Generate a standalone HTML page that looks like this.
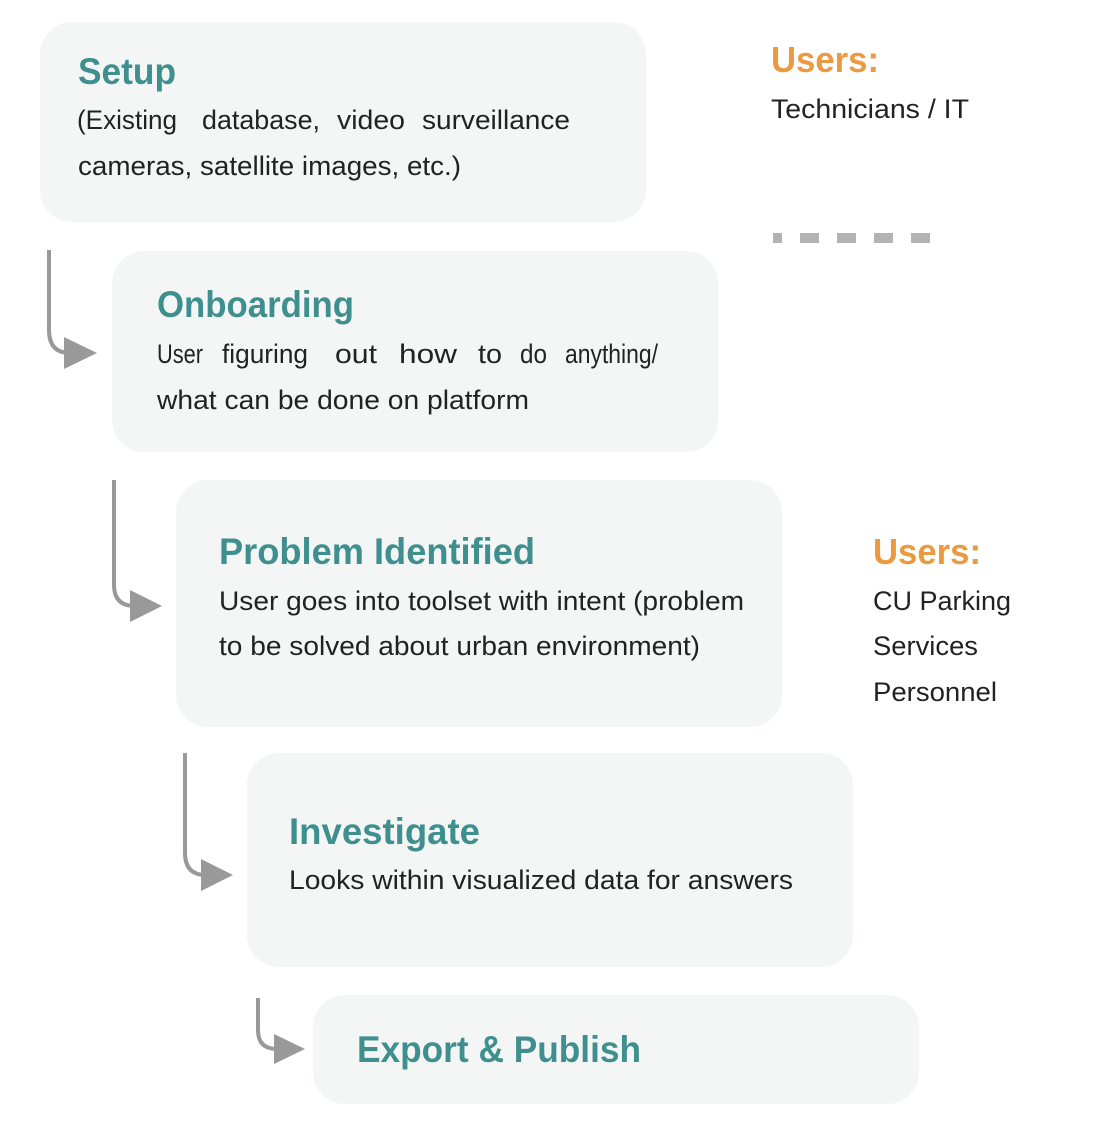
<!DOCTYPE html>
<html><head><meta charset="utf-8"><style>
html,body{margin:0;padding:0;background:#fff;}
svg{display:block;}
.t{font-family:"Liberation Sans",sans-serif;font-weight:bold;font-size:37px;fill:#3f8f8f;}
.u{font-family:"Liberation Sans",sans-serif;font-weight:bold;font-size:36px;fill:#eb9a3f;}
.b{font-family:"Liberation Sans",sans-serif;font-size:27px;fill:#222;}
</style></head><body>
<svg width="1100" height="1134" viewBox="0 0 1100 1134" xmlns="http://www.w3.org/2000/svg">
<g fill="#f4f6f5">
<rect x="40" y="22" width="606" height="200" rx="32"/>
<rect x="112" y="251" width="606" height="201" rx="32"/>
<rect x="176" y="480" width="606" height="247" rx="32"/>
<rect x="247" y="753" width="606" height="214" rx="32"/>
<rect x="313" y="995" width="606" height="109" rx="32"/>
</g>
<g fill="none" stroke="#999" stroke-width="4">
<path d="M49 250 V330 Q49 353 70 353"/>
<path d="M114 480 V585 Q114 606 135 606"/>
<path d="M185 753 V853 Q185 875 206 875"/>
<path d="M258 998 V1030 Q258 1049 277 1049"/>
</g>
<g fill="#999">
<polygon points="64,337 97,353 64,369"/>
<polygon points="130,590 162,606 130,622"/>
<polygon points="201,859 233,875 201,891"/>
<polygon points="274,1034 305,1049 274,1064"/>
</g>
<g fill="#b3b3b3">
<rect x="773" y="233" width="9" height="10"/>
<rect x="800" y="233" width="19" height="10"/>
<rect x="837" y="233" width="19" height="10"/>
<rect x="874" y="233" width="19" height="10"/>
<rect x="911" y="233" width="19" height="10"/>
</g>
<text class="t" x="78" y="84" textLength="98" lengthAdjust="spacingAndGlyphs">Setup</text>
<text class="b" x="77" y="129" textLength="100" lengthAdjust="spacingAndGlyphs">(Existing</text>
<text class="b" x="202" y="129" textLength="118" lengthAdjust="spacingAndGlyphs">database,</text>
<text class="b" x="337" y="129" textLength="68" lengthAdjust="spacingAndGlyphs">video</text>
<text class="b" x="422" y="129" textLength="148" lengthAdjust="spacingAndGlyphs">surveillance</text>
<text class="b" x="78" y="175" textLength="383" lengthAdjust="spacingAndGlyphs">cameras, satellite images, etc.)</text>
<text class="u" x="771" y="72" textLength="108" lengthAdjust="spacingAndGlyphs">Users:</text>
<text class="b" x="771" y="118" textLength="198" lengthAdjust="spacingAndGlyphs">Technicians / IT</text>
<text class="t" x="157" y="317" textLength="197" lengthAdjust="spacingAndGlyphs">Onboarding</text>
<text class="b" x="157" y="363" textLength="46" lengthAdjust="spacingAndGlyphs">User</text>
<text class="b" x="222" y="363" textLength="86" lengthAdjust="spacingAndGlyphs">figuring</text>
<text class="b" x="335" y="363" textLength="42" lengthAdjust="spacingAndGlyphs">out</text>
<text class="b" x="399" y="363" textLength="58" lengthAdjust="spacingAndGlyphs">how</text>
<text class="b" x="478" y="363" textLength="24" lengthAdjust="spacingAndGlyphs">to</text>
<text class="b" x="520" y="363" textLength="27" lengthAdjust="spacingAndGlyphs">do</text>
<text class="b" x="565" y="363" textLength="93" lengthAdjust="spacingAndGlyphs">anything/</text>
<text class="b" x="157" y="409" textLength="372" lengthAdjust="spacingAndGlyphs">what can be done on platform</text>
<text class="t" x="219" y="564" textLength="316" lengthAdjust="spacingAndGlyphs">Problem Identified</text>
<text class="b" x="219" y="610" textLength="525" lengthAdjust="spacingAndGlyphs">User goes into toolset with intent (problem</text>
<text class="b" x="219" y="655" textLength="481" lengthAdjust="spacingAndGlyphs">to be solved about urban environment)</text>
<text class="u" x="873" y="564" textLength="108" lengthAdjust="spacingAndGlyphs">Users:</text>
<text class="b" x="873" y="610" textLength="138" lengthAdjust="spacingAndGlyphs">CU Parking</text>
<text class="b" x="873" y="655" textLength="105" lengthAdjust="spacingAndGlyphs">Services</text>
<text class="b" x="873" y="701" textLength="124" lengthAdjust="spacingAndGlyphs">Personnel</text>
<text class="t" x="289" y="844" textLength="191" lengthAdjust="spacingAndGlyphs">Investigate</text>
<text class="b" x="289" y="889" textLength="504" lengthAdjust="spacingAndGlyphs">Looks within visualized data for answers</text>
<text class="t" x="357" y="1062" textLength="284" lengthAdjust="spacingAndGlyphs">Export &amp; Publish</text>
</svg>
</body></html>
